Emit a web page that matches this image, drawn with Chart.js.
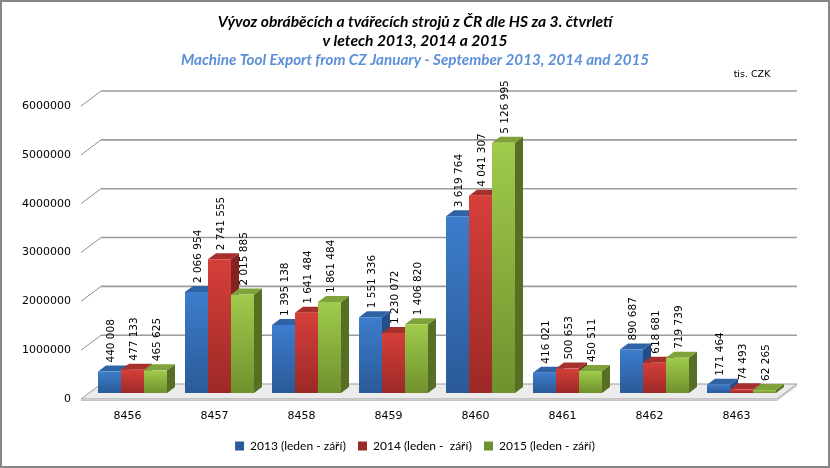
<!DOCTYPE html>
<html>
<head>
<meta charset="utf-8">
<script src="https://cdn.jsdelivr.net/npm/chart.js@4.4.0/dist/chart.umd.min.js"></script>
<style>
  html, body { margin: 0; padding: 0; background: #fff; }
  canvas { display: block; }
</style>
</head>
<body>
<canvas id="myChart" width="830" height="468"></canvas>
<script>
// categories (HS codes) and values in tis. CZK
var categories = ["8456", "8457", "8458", "8459", "8460", "8461", "8462", "8463"];
var values2013 = [440008, 2066954, 1395138, 1551336, 3619764, 416021, 890687, 171464];
var values2014 = [477133, 2741555, 1641484, 1230072, 4041307, 500653, 618681, 74493];
var values2015 = [465625, 2015885, 1861484, 1406820, 5126995, 450511, 719739, 62265];
var seriesNames = ["2013 (leden - září)", "2014 (leden -  září)", "2015 (leden - září)"];
var yTicks = [0, 1000000, 2000000, 3000000, 4000000, 5000000, 6000000];

// colours: [light top, dark bottom, top face, side face]
var palette = [
  ["#3d7dcc", "#2a5a98", "#2f63a6", "#244e84"],
  ["#d63f3a", "#9c2926", "#a8302c", "#822320"],
  ["#a0cb4c", "#6f912d", "#7fa33a", "#566f24"]
];

var DX = 8, DY = -6; // bar depth

function fmt(n) {
  return String(n).replace(/\B(?=(\d{3})+(?!\d))/g, " ");
}

function frontFill(idx) {
  return function (ctx) {
    var chart = ctx.chart;
    var area = chart.chartArea;
    if (!area || ctx.raw === undefined) return palette[idx][0];
    var y = chart.scales.y;
    var top = y.getPixelForValue(ctx.raw);
    var bottom = y.getPixelForValue(0);
    if (bottom - top < 1) return palette[idx][1];
    var g = chart.ctx.createLinearGradient(0, top, 0, bottom);
    g.addColorStop(0, palette[idx][0]);
    g.addColorStop(1, palette[idx][1]);
    return g;
  };
}

// back wall grid + floor, drawn before the bars
var wallPlugin = {
  id: "wall",
  afterLayout: function (chart) {
    // centre title, subtitle and legend on the whole picture, not on the plot
    chart.boxes.forEach(function (b) {
      var isTitle = b.options && b.options.text !== undefined;
      if (isTitle || b === chart.legend) {
        b.left = 0;
        b.right = chart.width;
        b.width = chart.width;
      }
    });
  },
  beforeDatasetsDraw: function (chart) {
    var c = chart.ctx;
    var a = chart.chartArea;
    var y = chart.scales.y;
    var fx = -8, fy = 6, bx = 12, by = -9;
    c.save();
    // floor
    var y0 = y.getPixelForValue(0);
    c.beginPath();
    c.moveTo(a.left + fx, y0 + fy);
    c.lineTo(a.right + fx, y0 + fy);
    c.lineTo(a.right + bx, y0 + by);
    c.lineTo(a.left + bx, y0 + by);
    c.closePath();
    c.fillStyle = "#ececec";
    c.fill();
    c.strokeStyle = "#9a9a9a";
    c.lineWidth = 1;
    c.stroke();
    c.beginPath();
    c.moveTo(a.left + fx, y0 + fy + 1.5);
    c.lineTo(a.right + fx, y0 + fy + 1.5);
    c.lineTo(a.right + bx, y0 + by + 1.5);
    c.strokeStyle = "#c4c4c4";
    c.stroke();
    // gridlines
    yTicks.forEach(function (v) {
      if (v === 0) return;
      var py = y.getPixelForValue(v);
      c.beginPath();
      c.moveTo(a.left + fx, py + fy);
      c.lineTo(a.left + bx, py + by);
      c.strokeStyle = "#8e8e8e";
      c.lineWidth = 1;
      c.stroke();
      c.beginPath();
      c.moveTo(a.left + bx, py + by);
      c.lineTo(a.right + bx, py + by);
      c.strokeStyle = "#9c9c9c";
      c.lineWidth = 1.6;
      c.stroke();
    });
    // top and side faces of the bars
    chart.data.datasets.forEach(function (ds, di) {
      var meta = chart.getDatasetMeta(di);
      meta.data.forEach(function (bar) {
        var p = bar.getProps(["x", "y", "base", "width"], true);
        var l = p.x - p.width / 2, r = p.x + p.width / 2;
        c.beginPath();
        c.moveTo(r, p.y);
        c.lineTo(r + DX, p.y + DY);
        c.lineTo(r + DX, p.base + DY);
        c.lineTo(r, p.base);
        c.closePath();
        c.fillStyle = palette[di][3];
        c.fill();
        c.beginPath();
        c.moveTo(l, p.y);
        c.lineTo(l + DX, p.y + DY);
        c.lineTo(r + DX, p.y + DY);
        c.lineTo(r, p.y);
        c.closePath();
        c.fillStyle = palette[di][2];
        c.fill();
      });
    });
    c.restore();
  },
  afterDatasetsDraw: function (chart) {
    var c = chart.ctx;
    c.save();
    c.font = "10.5px 'DejaVu Sans'";
    c.fillStyle = "#000";
    c.textAlign = "left";
    c.textBaseline = "middle";
    chart.data.datasets.forEach(function (ds, di) {
      var meta = chart.getDatasetMeta(di);
      meta.data.forEach(function (bar, i) {
        var p = bar.getProps(["x", "y"], true);
        c.save();
        c.translate(p.x + 2, p.y - 9);
        c.rotate(-Math.PI / 2);
        c.fillText(fmt(ds.data[i]), 0, 0);
        c.restore();
      });
    });
    c.restore();
  },
  afterDraw: function (chart) {
    var c = chart.ctx;
    c.save();
    c.font = "9.5px 'DejaVu Sans'";
    c.fillStyle = "#000";
    c.textAlign = "center";
    c.textBaseline = "middle";
    c.fillText("tis. CZK", 752, 75);
    c.strokeStyle = "#878787";
    c.lineWidth = 2;
    c.strokeRect(1, 1, chart.width - 2, chart.height - 2);
    c.restore();
  }
};

new Chart(document.getElementById("myChart").getContext("2d"), {
  type: "bar",
  data: {
    labels: categories,
    datasets: [
      { label: seriesNames[0], data: values2013, backgroundColor: frontFill(0) },
      { label: seriesNames[1], data: values2014, backgroundColor: frontFill(1) },
      { label: seriesNames[2], data: values2015, backgroundColor: frontFill(2) }
    ]
  },
  options: {
    responsive: false,
    animation: false,
    layout: { padding: { left: 0, right: 45, top: 0, bottom: 6 } },
    datasets: {
      bar: { categoryPercentage: 0.793, barPercentage: 1, borderWidth: 0 }
    },
    scales: {
      x: {
        grid: { display: false, drawTicks: false },
        border: { display: false },
        ticks: { padding: 17, color: "#000", font: { family: "DejaVu Sans", size: 11 }, labelOffset: -5 },
        afterFit: function (s) { s.height = 35; }
      },
      y: {
        min: 0,
        max: 6000000,
        grid: { display: false, drawTicks: false },
        border: { display: false },
        ticks: {
          stepSize: 1000000,
          padding: 18,
          labelOffset: 6,
          color: "#000",
          font: { family: "DejaVu Sans", size: 11 },
          callback: function (v) { return String(v); }
        },
        afterFit: function (s) { s.width = 89; }
      }
    },
    plugins: {
      tooltip: { enabled: false },
      title: {
        display: true,
        text: ["Vývoz obráběcích a tvářecích strojů z ČR dle HS za 3. čtvrletí", "v letech 2013, 2014 a 2015"],
        color: "#000",
        font: { family: "Lato", size: 15.6, weight: "bold", style: "italic", lineHeight: 1.22 },
        padding: { top: 12, bottom: 0 }
      },
      subtitle: {
        display: true,
        text: "Machine Tool Export from CZ January - September 2013, 2014 and 2015",
        color: "#5b8fd8",
        font: { family: "Lato", size: 15.2, weight: "bold", style: "italic", lineHeight: 1.25 },
        padding: { top: 1, bottom: 30 }
      },
      legend: {
        position: "bottom",
        labels: {
          boxWidth: 9,
          boxHeight: 9,
          padding: 12,
          color: "#000",
          font: { family: "Lato", size: 12 }
        }
      }
    }
  },
  plugins: [wallPlugin]
});
</script>
</body>
</html>
